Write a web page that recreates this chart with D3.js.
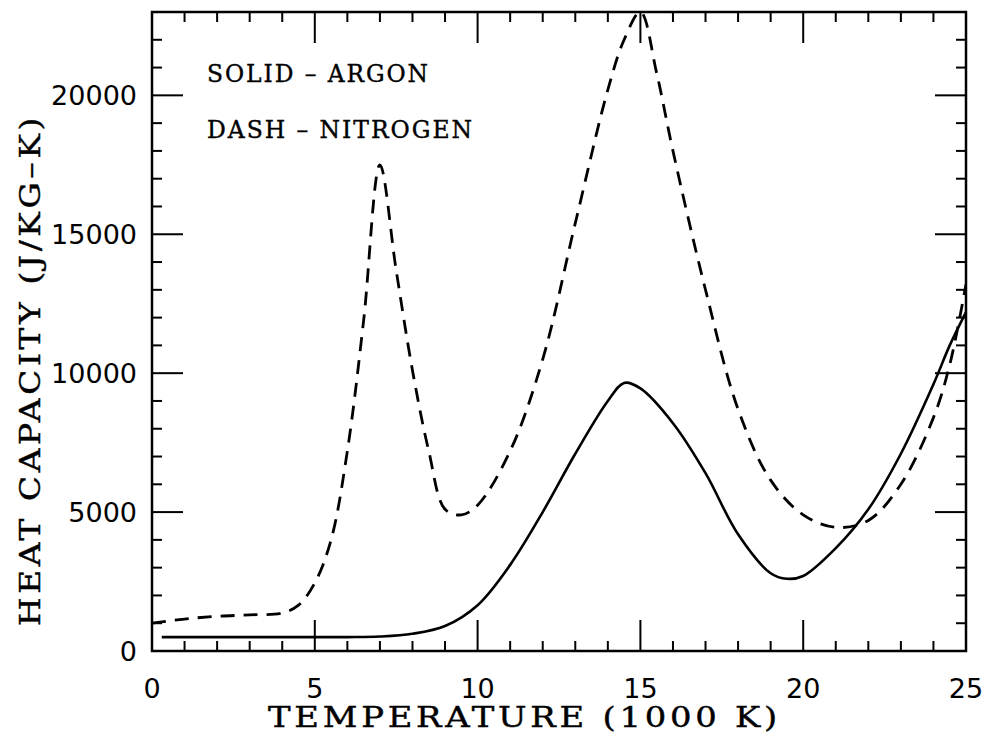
<!DOCTYPE html>
<html>
<head>
<meta charset="utf-8">
<script src="https://cdn.jsdelivr.net/npm/d3@7"></script>
<style>
    body { margin: 0; background: #fff; }
    svg { display: block; }
    .tick-label { font-family: "DejaVu Sans", sans-serif; font-size: 27px; fill: #000; }
    .title { font-family: "DejaVu Serif", serif; fill: #000; stroke: #000; stroke-width: 0.4px; }
</style>
</head>
<body>
<div id="chart"></div>
<script>

// Argon (solid line): temperature in 1000 K, heat capacity J/kg-K
let argonTemp = [0.3, 2, 4, 6, 7, 8, 9, 10, 11, 12, 13, 14, 14.5, 15, 16, 17, 18, 19, 19.5, 20, 21, 22, 23, 24, 24.5, 25];
let argonCp   = [500, 500, 500, 500, 520, 620, 900, 1650, 3100, 5000, 7100, 9000, 9650, 9450, 8200, 6400, 4200, 2800, 2600, 2700, 3700, 5100, 7100, 9600, 11000, 12200];

// Nitrogen (dashed line)
let nitrogenTemp = [0, 1, 2, 3, 4, 4.5, 5, 5.5, 6, 6.5, 7, 7.5, 8, 8.5, 9, 9.5, 10, 11, 12, 13, 14, 14.5, 15, 15.5, 16, 17, 18, 19, 20, 21, 22, 23, 24, 24.5, 25];
let nitrogenCp   = [1000, 1150, 1250, 1300, 1370, 1650, 2450, 4000, 7200, 11900, 17500, 13700, 10100, 7200, 5100, 4900, 5250, 7200, 10500, 15400, 20200, 22000, 23000, 20800, 18000, 13000, 8700, 6150, 4900, 4450, 4700, 6000, 8400, 10300, 13200];

let xTicks = [0, 5, 10, 15, 20, 25];
let yTicks = [0, 5000, 10000, 15000, 20000];

let legendLines = ["SOLID \u2013 ARGON", "DASH \u2013 NITROGEN"];
let xTitle = "TEMPERATURE (1000 K)";
let yTitle = "HEAT CAPACITY (J/KG\u2013K)";

let width = 986, height = 736;
let margin = {top: 12, right: 20, bottom: 85, left: 152};
let xwidth = width - margin.left - margin.right;
let yheight = height - margin.top - margin.bottom;

let svg = d3.select("#chart")
    .append("svg")
        .attr("width", width)
        .attr("height", height)
    .append("g")
        .attr("transform", "translate(" + margin.left + "," + margin.top + ")");

let x = d3.scaleLinear().domain([0, 25]).range([0, xwidth]);
let y = d3.scaleLinear().domain([0, 23000]).range([yheight, 0]);

svg.append("defs").append("clipPath")
    .attr("id", "plot-clip")
  .append("rect")
    .attr("width", xwidth)
    .attr("height", yheight);

// Ticks: minor every 1 (x) / 1000 (y), major longer, on all four sides
let majorLen = 31, minorLen = 10;
let xMinor = d3.range(0, 26);
let yMinor = d3.range(0, 23001, 1000);

let ticks = svg.append("g").attr("stroke", "#000").attr("stroke-width", 2);

xMinor.forEach(t => {
    let len = t % 5 === 0 ? majorLen : minorLen;
    ticks.append("line")
        .attr("x1", x(t)).attr("x2", x(t))
        .attr("y1", yheight).attr("y2", yheight - len);
    ticks.append("line")
        .attr("x1", x(t)).attr("x2", x(t))
        .attr("y1", 0).attr("y2", len);
});

yMinor.forEach(v => {
    let len = v % 5000 === 0 ? majorLen : minorLen;
    ticks.append("line")
        .attr("x1", 0).attr("x2", len)
        .attr("y1", y(v)).attr("y2", y(v));
    ticks.append("line")
        .attr("x1", xwidth).attr("x2", xwidth - len)
        .attr("y1", y(v)).attr("y2", y(v));
});

// Frame
svg.append("rect")
    .attr("width", xwidth)
    .attr("height", yheight)
    .attr("fill", "none")
    .attr("stroke", "#000")
    .attr("stroke-width", 2.5);

// Tick labels
svg.append("g")
    .selectAll("text")
    .data(xTicks)
    .enter().append("text")
        .attr("class", "tick-label")
        .attr("x", d => x(d))
        .attr("y", yheight + 47)
        .attr("text-anchor", "middle")
        .text(d => d);

svg.append("g")
    .selectAll("text")
    .data(yTicks)
    .enter().append("text")
        .attr("class", "tick-label")
        .attr("x", -15)
        .attr("y", d => y(d))
        .attr("dy", "0.36em")
        .attr("text-anchor", "end")
        .text(d => d);

// Curves
let line = d3.line()
    .x(d => x(d[0]))
    .y(d => y(d[1]))
    .curve(d3.curveCatmullRom.alpha(0.5));

let plot = svg.append("g").attr("clip-path", "url(#plot-clip)");

plot.append("path")
    .attr("d", line(d3.zip(argonTemp, argonCp)))
    .attr("fill", "none")
    .attr("stroke", "#000")
    .attr("stroke-width", 2.6);

plot.append("path")
    .attr("d", line(d3.zip(nitrogenTemp, nitrogenCp)))
    .attr("fill", "none")
    .attr("stroke", "#000")
    .attr("stroke-width", 2.8)
    .attr("stroke-dasharray", "14,9");

// Legend text (wide typewriter-like lettering, stretched to the original widths)
let legendWidths = [223, 267];
svg.append("g")
    .selectAll("text")
    .data(legendLines)
    .enter().append("text")
        .attr("class", "title")
        .attr("x", 55)
        .attr("y", (d, i) => 70 + i * 56)
        .attr("font-size", 24)
        .attr("letter-spacing", 2)
        .attr("textLength", (d, i) => legendWidths[i])
        .attr("lengthAdjust", "spacingAndGlyphs")
        .text(d => d);

// Axis titles
svg.append("text")
    .attr("class", "title")
    .attr("x", 268 - margin.left)
    .attr("y", 727 - margin.top)
    .attr("font-size", 27)
    .attr("letter-spacing", 3)
    .attr("textLength", 513)
    .attr("lengthAdjust", "spacingAndGlyphs")
    .text(xTitle);

svg.append("text")
    .attr("class", "title")
    .attr("transform", "translate(" + (40 - margin.left) + "," + (626 - margin.top) + ") rotate(-90)")
    .attr("font-size", 27)
    .attr("letter-spacing", 3)
    .attr("textLength", 512)
    .attr("lengthAdjust", "spacingAndGlyphs")
    .text(yTitle);

</script>
</body>
</html>
